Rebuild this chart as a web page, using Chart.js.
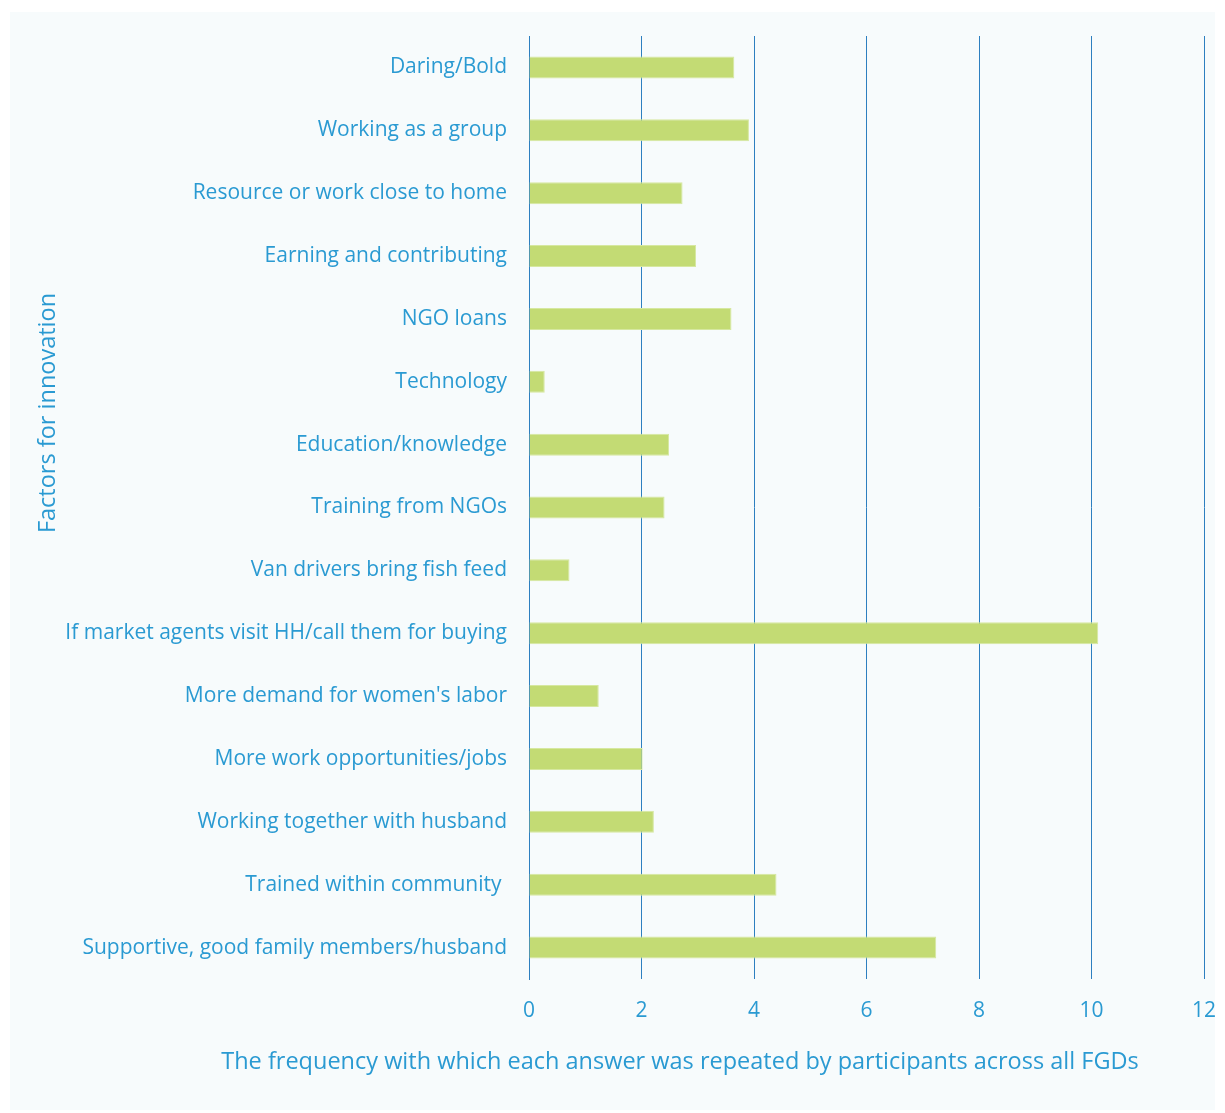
<!DOCTYPE html>
<html>
<head>
<meta charset="utf-8">
<script src="https://cdn.jsdelivr.net/npm/chart.js@4/dist/chart.umd.min.js"></script>
<style>
    html, body { margin: 0; padding: 0; background: #ffffff; }
    #wrap { position: relative; width: 1225px; height: 1113px; }
</style>
</head>
<body>
<div id="wrap"><canvas id="factorsChart" width="1225" height="1113"></canvas></div>
<script>
// Categories (top to bottom) and how often each answer came up
const factors = [
    'Daring/Bold',
    'Working as a group',
    'Resource or work close to home',
    'Earning and contributing',
    'NGO loans',
    'Technology',
    'Education/knowledge',
    'Training from NGOs',
    'Van drivers bring fish feed',
    'If market agents visit HH/call them for buying',
    "More demand for women's labor",
    'More work opportunities/jobs',
    'Working together with husband',
    'Trained within community ',
    'Supportive, good family members/husband'
];
const frequency = [3.65, 3.91, 2.73, 2.97, 3.6, 0.28, 2.49, 2.41, 0.72, 10.12, 1.24, 2.02, 2.22, 4.4, 7.24];
const xTicks = [0, 2, 4, 6, 8, 10, 12];

const xTitle = 'The frequency with which each answer was repeated by participants across all FGDs';
const yTitle = 'Factors for innovation';

const textColor = '#2a9ad2';
const gridColor = '#2d7fc0';
const fontFamily = '"Open Sans", "Liberation Sans", sans-serif';

// Light panel behind everything plus the two axis titles
const panelPlugin = {
    id: 'panel',
    beforeDraw(chart) {
        const ctx = chart.ctx;
        ctx.save();
        ctx.fillStyle = '#f7fbfc';
        ctx.fillRect(10, 12, 1205, 1098);
        ctx.restore();
    },
    afterDraw(chart) {
        const ctx = chart.ctx;
        ctx.save();
        ctx.fillStyle = textColor;
        ctx.font = '23.5px ' + fontFamily;
        ctx.textAlign = 'center';
        ctx.textBaseline = 'middle';
        ctx.fillText(xTitle, 680, 1062);
        ctx.translate(48, 413);
        ctx.rotate(-Math.PI / 2);
        ctx.fillText(yTitle, 0, 0);
        ctx.restore();
    }
};

const ctx = document.getElementById('factorsChart').getContext('2d');
new Chart(ctx, {
    type: 'bar',
    data: {
        labels: factors,
        datasets: [{
            data: frequency,
            backgroundColor: '#c3db74',
            borderColor: '#d6e8a0',
            borderWidth: 1,
            categoryPercentage: 1,
            barPercentage: 0.35
        }]
    },
    options: {
        indexAxis: 'y',
        responsive: false,
        animation: false,
        layout: { padding: { top: 36, right: 21, left: 0, bottom: 0 } },
        plugins: {
            legend: { display: false },
            tooltip: { enabled: false }
        },
        scales: {
            x: {
                min: 0,
                max: 12,
                afterBuildTicks(scale) {
                    scale.ticks = xTicks.map(v => ({ value: v }));
                },
                grid: {
                    color: gridColor,
                    lineWidth: 1,
                    drawTicks: false
                },
                border: { display: false },
                ticks: {
                    color: textColor,
                    font: { family: fontFamily, size: 21 },
                    padding: 19
                },
                afterFit(scale) {
                    scale.height = 1113 - 979;
                    scale.paddingLeft = 0;
                    scale.paddingRight = 0;
                }
            },
            y: {
                grid: { display: false, drawTicks: false },
                border: { display: true, color: gridColor, width: 1 },
                ticks: {
                    color: textColor,
                    font: { family: fontFamily, size: 21 },
                    padding: 22,
                    autoSkip: false
                },
                afterFit(scale) { scale.width = 529; }
            }
        }
    },
    plugins: [panelPlugin]
});
</script>
</body>
</html>
